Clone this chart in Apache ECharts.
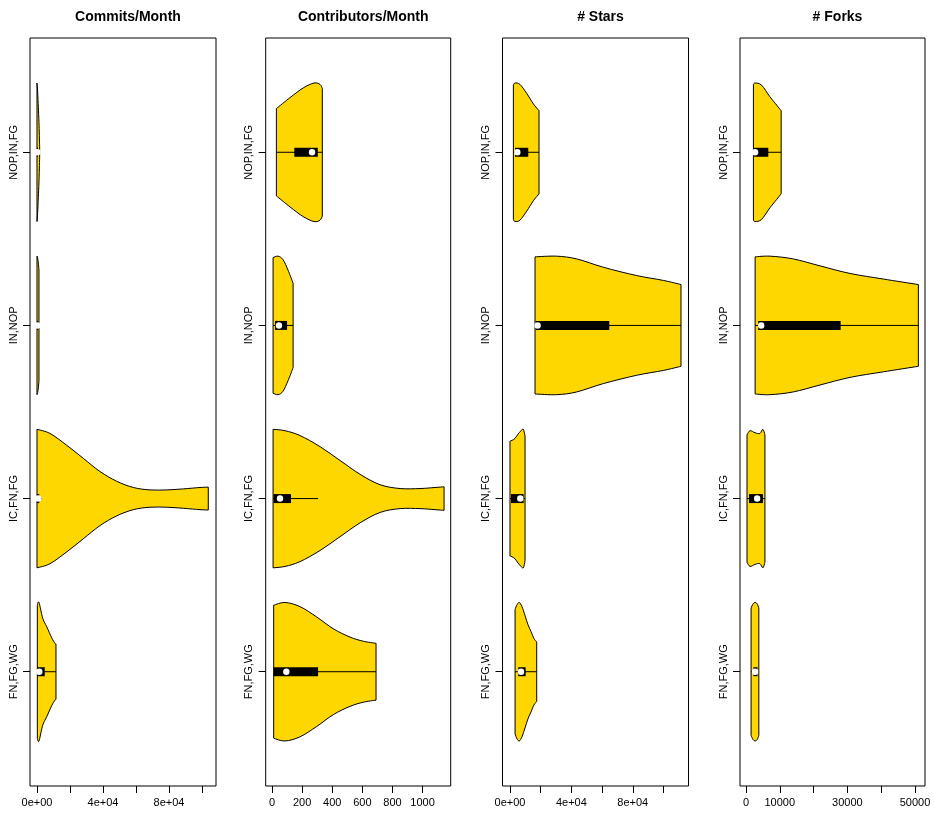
<!DOCTYPE html>
<html>
<head>
<meta charset="utf-8">
<script src="https://cdn.jsdelivr.net/npm/echarts@6/dist/echarts.min.js"></script>
<style>html,body{margin:0;padding:0;background:#fff}#c{width:934px;height:814px}</style>
</head>
<body>
<div id="c"></div>
<script>
// ---- data (y = 1..4 bottom to top) ----
const categories = ['FN,FG,WG', 'IC,FN,FG', 'IN,NOP', 'NOP,IN,FG'];
const panelTitles = ['Commits/Month', 'Contributors/Month', '# Stars', '# Forks'];

// violin outlines: value positions and relative half-widths (1 = widest)
const commitsProfileValues = [
  [200, 1200, 3500, 5900, 8900, 10900, 11500],
  [0, 7900, 18000, 28100, 38200, 48300, 58400, 68500, 78600, 88700, 98800, 103800],
  [0, 400, 800, 1200],
  [0, 400, 800, 1200, 1600]
];
const commitsProfileWidths = [
  [0.96, 1.0, 0.77, 0.65, 0.49, 0.41, 0.40],
  [1.0, 0.94, 0.77, 0.58, 0.39, 0.25, 0.16, 0.125, 0.125, 0.14, 0.16, 0.165],
  [1.0, 0.97, 0.9, 0.8],
  [1.0, 0.87, 0.65, 0.43, 0.08]
];
// [lower whisker, q1, median, q3, upper whisker]
const commitsBox = [
  [200, 200, 1400, 4700, 11500],
  [0, 0, 800, 1400, 3000],
  [0, 0, 300, 700, 1200],
  [0, 0, 300, 600, 1600]
];

const contribProfileValues = [
  [11, 86, 186, 297, 407, 518, 607, 691],
  [7, 86, 186, 319, 452, 585, 718, 851, 983, 1083, 1143],
  [7, 40, 73, 106, 140],
  [29, 120, 208, 279, 319, 334]
];
const contribProfileWidths = [
  [0.96, 1.0, 0.94, 0.79, 0.62, 0.50, 0.44, 0.41],
  [1.0, 0.98, 0.91, 0.75, 0.55, 0.35, 0.20, 0.145, 0.145, 0.16, 0.17],
  [0.98, 1.0, 0.95, 0.80, 0.61],
  [0.63, 0.79, 0.93, 1.0, 0.98, 0.92]
];
const contribBox = [
  [11, 11, 95, 306, 691],
  [7, 10, 53, 126, 306],
  [7, 20, 46, 100, 140],
  [29, 148, 266, 304, 334]
];

const starsProfileValues = [
  [3300, 4600, 6100, 7800, 9800, 11700, 13700, 15600, 17400],
  [0, 1300, 3300, 5200, 7200, 8700, 9800],
  [16300, 30400, 43500, 60800, 82500, 99900, 111400],
  [2200, 3300, 6500, 10900, 15200, 18900]
];
const starsProfileWidths = [
  [0.90, 0.97, 1.0, 0.94, 0.81, 0.68, 0.58, 0.48, 0.43],
  [0.83, 0.84, 0.87, 0.93, 0.98, 1.0, 0.90],
  [0.99, 1.0, 0.96, 0.84, 0.72, 0.65, 0.59],
  [0.97, 1.0, 0.98, 0.85, 0.70, 0.60]
];
const starsBox = [
  [3300, 5400, 7200, 10200, 17400],
  [0, 650, 6700, 8900, 9800],
  [16300, 16700, 18000, 64700, 111400],
  [2200, 3300, 4800, 11900, 18900]
];

const forksProfileValues = [
  [1500, 2100, 2700, 3300, 3800],
  [300, 1200, 2700, 4100, 5000, 5600],
  [2700, 7100, 14000, 21900, 30800, 40600, 51000],
  [2200, 2700, 4600, 7100, 9100, 10400]
];
const forksProfileWidths = [
  [0.92, 0.98, 1.0, 0.98, 0.92],
  [0.92, 0.98, 0.95, 0.94, 1.0, 0.92],
  [0.99, 1.0, 0.96, 0.86, 0.75, 0.67, 0.59],
  [0.98, 1.0, 0.97, 0.80, 0.68, 0.60]
];
const forksBox = [
  [1500, 2200, 2700, 3400, 3800],
  [300, 900, 3300, 5000, 5600],
  [2700, 3600, 4500, 28000, 51000],
  [2200, 2400, 2700, 6600, 10400]
];

// axes
const commitsRange = [-4242, 108485];
const contribRange = [-42, 1187];
const starsRange = [-4886, 116293];
const forksRange = [-1775, 52966];
const commitsTicks = [0, 20000, 40000, 60000, 80000, 100000];
const contribTicks = [0, 200, 400, 600, 800, 1000];
const starsTicks = [0, 20000, 40000, 60000, 80000, 100000];
const forksTicks = [0, 10000, 20000, 30000, 40000, 50000];
const commitsLabelValues = [0, 40000, 80000];
const commitsLabels = ['0e+00', '4e+04', '8e+04'];
const contribLabelValues = [0, 200, 400, 600, 800, 1000];
const contribLabels = ['0', '200', '400', '600', '800', '1000'];
const starsLabelValues = [0, 40000, 80000];
const starsLabels = ['0e+00', '4e+04', '8e+04'];
const forksLabelValues = [0, 10000, 30000, 50000];
const forksLabels = ['0', '10000', '30000', '50000'];
const categoryPositions = [1, 2, 3, 4];
const yRange = [0.34, 4.66];

// ---- chart ----
const panels = [
  {pv: commitsProfileValues, pw: commitsProfileWidths, box: commitsBox, range: commitsRange, ticks: commitsTicks, lv: commitsLabelValues, lt: commitsLabels},
  {pv: contribProfileValues, pw: contribProfileWidths, box: contribBox, range: contribRange, ticks: contribTicks, lv: contribLabelValues, lt: contribLabels},
  {pv: starsProfileValues, pw: starsProfileWidths, box: starsBox, range: starsRange, ticks: starsTicks, lv: starsLabelValues, lt: starsLabels},
  {pv: forksProfileValues, pw: forksProfileWidths, box: forksBox, range: forksRange, ticks: forksTicks, lv: forksLabelValues, lt: forksLabels}
];
const gridLefts = [30, 265.7, 502.5, 740];
const gridWidths = [186, 185, 186, 185];
const FONT = '"Liberation Sans", Arial, Helvetica, sans-serif';

// smooth curve through points (Catmull-Rom as cubic Bezier)
function curveSegs(pts) {
  let d = '';
  for (let i = 0; i < pts.length - 1; i++) {
    const p0 = pts[Math.max(i - 1, 0)], p1 = pts[i], p2 = pts[i + 1], p3 = pts[Math.min(i + 2, pts.length - 1)];
    const c1 = [p1[0] + (p2[0] - p0[0]) / 6, p1[1] + (p2[1] - p0[1]) / 6];
    const c2 = [p2[0] - (p3[0] - p1[0]) / 6, p2[1] - (p3[1] - p1[1]) / 6];
    d += ' C' + c1[0] + ' ' + c1[1] + ' ' + c2[0] + ' ' + c2[1] + ' ' + p2[0] + ' ' + p2[1];
  }
  return d;
}

const grids = [], xAxes = [], yAxes = [], titles = [], series = [];
panels.forEach((p, i) => {
  grids.push({left: gridLefts[i], width: gridWidths[i], top: 38, bottom: 28, show: true,
    borderColor: '#000', borderWidth: 1, backgroundColor: 'transparent', containLabel: false});
  xAxes.push({type: 'value', gridIndex: i, min: p.range[0], max: p.range[1],
    axisLine: {show: false, onZero: false}, splitLine: {show: false},
    axisTick: {show: true, customValues: p.ticks, length: 7, lineStyle: {color: '#000', width: 1}},
    axisLabel: {show: true, customValues: p.lv, margin: 11, color: '#000', fontSize: 11, fontFamily: FONT,
      formatter: v => { const k = p.lv.indexOf(v); return k >= 0 ? p.lt[k] : ''; }}
  });
  yAxes.push({type: 'value', gridIndex: i, min: yRange[0], max: yRange[1],
    axisLine: {show: false, onZero: false}, splitLine: {show: false},
    axisTick: {show: true, customValues: categoryPositions, length: 7, lineStyle: {color: '#000', width: 1}},
    axisLabel: {show: true, customValues: categoryPositions, rotate: 90, margin: 11, color: '#000', fontSize: 11, fontFamily: FONT,
      formatter: v => categories[Math.round(v) - 1] || ''}
  });
  titles.push({text: panelTitles[i], left: gridLefts[i] + gridWidths[i] / 2, top: 5, textAlign: 'center',
    textStyle: {fontSize: 14, fontWeight: 'bold', color: '#000', fontFamily: FONT}});
  series.push({
    type: 'custom', xAxisIndex: i, yAxisIndex: i, clip: false,
    encode: {x: 1, y: 2},
    data: categories.map((c, k) => [k, p.box[k][2], categoryPositions[k]]),
    renderItem: (params, api) => {
      const k = api.value(0);
      const y = categoryPositions[k];
      const vals = p.pv[k], wids = p.pw[k], b = p.box[k];
      const top = vals.map((v, j) => api.coord([v, y + 0.4 * wids[j]]));
      const bot = vals.map((v, j) => api.coord([v, y - 0.4 * wids[j]])).reverse();
      let d = 'M' + top[0][0] + ' ' + top[0][1] + curveSegs(top) +
        ' L' + bot[0][0] + ' ' + bot[0][1] + curveSegs(bot) + ' Z';
      const lo = api.coord([b[0], y]), q1 = api.coord([b[1], y]), md = api.coord([b[2], y]),
            q3 = api.coord([b[3], y]), hi = api.coord([b[4], y]);
      return {type: 'group', children: [
        {type: 'path', shape: {pathData: d}, style: {fill: '#FFD700', stroke: '#000', lineWidth: 1, lineJoin: 'round'}},
        {type: 'line', shape: {x1: lo[0], y1: lo[1], x2: hi[0], y2: hi[1]}, style: {stroke: '#000', lineWidth: 1}},
        {type: 'rect', shape: {x: q1[0], y: q1[1] - 4.5, width: Math.max(q3[0] - q1[0], 1), height: 9}, style: {fill: '#000'}},
        {type: 'circle', shape: {cx: md[0], cy: md[1], r: 3.2}, style: {fill: '#fff'}}
      ]};
    }
  });
});

const chart = echarts.init(document.getElementById('c'), null, {renderer: 'canvas'});
chart.setOption({
  backgroundColor: '#fff',
  animation: false,
  title: titles,
  grid: grids,
  xAxis: xAxes,
  yAxis: yAxes,
  series: series
});
</script>
</body>
</html>
